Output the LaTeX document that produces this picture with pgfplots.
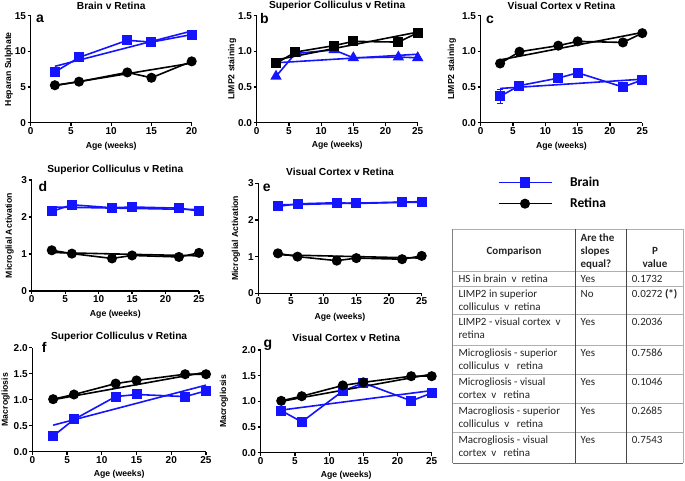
\documentclass[border=0pt]{standalone}
\usepackage{pgfplots}
\pgfplotsset{compat=1.18}
\usepackage{fontspec}
\setmainfont{Liberation Sans}
\newfontfamily\tabfont{Carlito}
\definecolor{gpblue}{RGB}{20,20,255}
\definecolor{tabtext}{RGB}{35,35,35}
\definecolor{rulegray}{RGB}{175,175,175}
\definecolor{darkrule}{RGB}{70,70,70}

\pgfplotsset{
  gp/.style={
    scale only axis, clip=false, anchor=south west,
    axis x line*=bottom, axis y line*=left,
    axis line style={line width=1.3pt, black},
    tick style={line width=1.2pt, black},
    tick align=outside, major tick length=3pt,
    xmin=0, ymin=0,
    /pgf/number format/assume math mode=true,
    tick label style={font=\bfseries\fontsize{10}{11}\selectfont},
    xticklabel={\textbf{\pgfmathprintnumber{\tick}}},
    yticklabel={\textbf{\pgfmathprintnumber{\tick}}},
    xticklabel style={inner sep=1.5pt},
    yticklabel style={inner sep=1.5pt},
    xlabel={Age (weeks)},
    label style={font=\bfseries\fontsize{8.7}{10}\selectfont},
    xlabel style={anchor=center},
    ylabel style={anchor=center},
    every axis title shift=0pt,
    title style={font=\bfseries\fontsize{10.2}{12}\selectfont, anchor=center},
  },
  onedec/.style={yticklabel style={/pgf/number format/.cd, fixed, fixed zerofill, precision=1}},
  bluesq/.style={gpblue, line width=1.6pt, mark=square*, mark size=4.2pt, mark options={solid, fill=gpblue}},
  bluetri/.style={gpblue, line width=1.6pt, mark=triangle*, mark size=5pt, mark options={solid, fill=gpblue}},
  blackci/.style={black, line width=1.6pt, mark=*, mark size=4.2pt, mark options={solid, fill=black}},
  blacksq/.style={black, line width=1.6pt, mark=square*, mark size=4.2pt, mark options={solid, fill=black}},
  bluereg/.style={gpblue, line width=1.6pt, no markers},
  blackreg/.style={black, line width=1.6pt, no markers},
  ebars/.style={error bars/.cd, y dir=both, y explicit, error bar style={line width=1pt}, error mark options={rotate=90, mark size=3pt, line width=1pt}},
}

\newcommand{\tabc}[3]{\node[anchor=base west, inner sep=0pt, font=\tabfont\fontsize{11}{13}\selectfont, text=tabtext] at (#1,#2) {#3};}
\newcommand{\tabhc}[3]{\node[anchor=base, inner sep=0pt, font=\tabfont\bfseries\fontsize{11}{13}\selectfont, text=tabtext] at (#1,#2) {#3};}
\newcommand{\tabhl}[3]{\node[anchor=base west, inner sep=0pt, font=\tabfont\bfseries\fontsize{11}{13}\selectfont, text=tabtext] at (#1,#2) {#3};}
\newcommand{\panlet}[3]{\node[anchor=base west, inner sep=0pt, font=\bfseries\fontsize{14}{14}\selectfont] at (#1,#2) {#3};}
\newcommand{\tabrule}[1]{\draw[rulegray, line width=0.7pt] (452.7,#1) -- (683.3,#1);}

\begin{document}
\begin{tikzpicture}
\useasboundingbox (0,0) rectangle (685pt,481pt);

% ---------- a ----------
\begin{axis}[gp, at={(30.7pt,358.3pt)}, width=161pt, height=107pt,
  xmax=20, ymax=15, xtick={0,5,10,15,20}, ytick={0,5,10,15},
  title={Brain v Retina}, title style={at={(axis description cs:0.5,1.088)}},
  ylabel={Heparan Sulphate}, ylabel style={at={(axis description cs:-0.135,0.5)}},
  xlabel style={at={(axis description cs:0.5,-0.218)}}]
\addplot[blackreg] coordinates {(3,5.2) (20,8.35)};
\addplot[blackci, ebars] coordinates {(3,5.25) (6,5.75) (12,7.05) (15,6.3) +- (0,0.5) (20,8.6)};
\addplot[bluereg] coordinates {(3,7.9) (20,12.85)};
\addplot[bluesq] coordinates {(3,7.1) (6,9.15) (12,11.55) (15,11.3) (20,12.35)};
\end{axis}

% ---------- b ----------
\begin{axis}[gp, onedec, at={(256.7pt,358.3pt)}, width=161pt, height=107pt,
  xmax=25, ymax=1.5, xtick={0,5,10,15,20,25}, ytick={0,0.5,1,1.5},
  title={Superior Colliculus v Retina}, title style={at={(axis description cs:0.5,1.088)}},
  ylabel={LIMP2 staining}, ylabel style={at={(axis description cs:-0.153,0.5)}},
  xlabel style={at={(axis description cs:0.5,-0.215)}}]
\addplot[bluereg] coordinates {(3,0.84) (25,0.96)};
\addplot[bluetri] coordinates {(3,0.65) (6,0.97) (12,1.02) (15,0.91) (22,0.92) (25,0.91)};
\addplot[blackreg] coordinates {(3,0.88) (25,1.27)};
\addplot[blacksq, ebars] coordinates {(3,0.83) (6,0.99) (12,1.08) +- (0,0.04) (15,1.14) (22,1.13) (25,1.26)};
\end{axis}

% ---------- c ----------
\begin{axis}[gp, onedec, at={(480.7pt,358.3pt)}, width=161.6pt, height=107pt,
  xmax=25, ymax=1.5, xtick={0,5,10,15,20,25}, ytick={0,0.5,1,1.5},
  title={Visual Cortex v Retina}, title style={at={(axis description cs:0.5,1.088)}},
  ylabel={LIMP2 staining}, ylabel style={at={(axis description cs:-0.178,0.5)}},
  xlabel style={at={(axis description cs:0.5,-0.218)}}]
\addplot[blackreg] coordinates {(3,0.88) (25,1.265)};
\addplot[blackci, ebars] coordinates {(3,0.83) +- (0,0.04) (6,0.995) +- (0,0.05) (12,1.08) +- (0,0.05) (15,1.14) (22,1.125) (25,1.255)};
\addplot[bluereg] coordinates {(3,0.48) (25,0.61)};
\addplot[bluesq, ebars] coordinates {(3,0.37) +- (0,0.1) (6,0.52) +- (0,0.04) (12,0.625) (15,0.70) (22,0.50) +- (0,0.06) (25,0.60)};
\end{axis}

% ---------- d ----------
\begin{axis}[gp, at={(31.7pt,190pt)}, width=167.3pt, height=111pt,
  xmax=25, ymax=3, xtick={0,5,10,15,20,25}, ytick={0,1,2,3},
  title={Superior Colliculus v Retina}, title style={at={(axis description cs:0.5,1.09)}},
  ylabel={Microglial Activation}, ylabel style={at={(axis description cs:-0.1315,0.5)}},
  xlabel style={at={(axis description cs:0.5,-0.207)}}]
\addplot[bluereg] coordinates {(3,2.27) (25,2.2)};
\addplot[bluesq] coordinates {(3,2.15) (6,2.33) (12,2.25) (15,2.27) (22,2.24) (25,2.16)};
\addplot[blackreg] coordinates {(3,1.04) (25,0.95)};
\addplot[blackci] coordinates {(3,1.10) (6,1.01) (12,0.88) (15,0.96) (22,0.92) (25,1.03)};
\end{axis}

% ---------- e ----------
\begin{axis}[gp, at={(258.3pt,187.7pt)}, width=163.4pt, height=110pt,
  xmax=25, ymax=3, xtick={0,5,10,15,20,25}, ytick={0,1,2,3},
  title={Visual Cortex v Retina}, title style={at={(axis description cs:0.5,1.105)}},
  ylabel={Microglial Activation}, ylabel style={at={(axis description cs:-0.1365,0.5)}},
  xlabel style={at={(axis description cs:0.5,-0.215)}}]
\addplot[bluereg] coordinates {(3,2.41) (25,2.50)};
\addplot[bluesq] coordinates {(3,2.37) (6,2.44) (12,2.47) (15,2.45) (22,2.48) (25,2.48)};
\addplot[blackreg] coordinates {(3,1.05) (25,0.96)};
\addplot[blackci] coordinates {(3,1.09) (6,1.00) (12,0.89) (15,0.96) (22,0.93) (25,1.02)};
\end{axis}

% ---------- f ----------
\begin{axis}[gp, onedec, at={(32.3pt,29.3pt)}, width=173.7pt, height=104pt,
  xmax=25, ymax=2, xtick={0,5,10,15,20,25}, ytick={0,0.5,1,1.5,2},
  title={Superior Colliculus v Retina}, title style={at={(axis description cs:0.5,1.106)}},
  ylabel={Macrogliosis}, ylabel style={at={(axis description cs:-0.154,0.5)}},
  xlabel style={at={(axis description cs:0.5,-0.214)}}]
\addplot[bluereg] coordinates {(3,0.51) (25,1.28)};
\addplot[bluesq] coordinates {(3,0.30) (6,0.62) (12,1.06) (15,1.10) (22,1.06) (25,1.17)};
\addplot[blackreg] coordinates {(3,1.0) (25,1.53)};
\addplot[blackci] coordinates {(3,1.01) (6,1.10) (12,1.31) (15,1.37) (22,1.49) (25,1.49)};
\end{axis}

% ---------- g ----------
\begin{axis}[gp, onedec, at={(260.7pt,28.3pt)}, width=171pt, height=102.7pt,
  xmax=25, ymax=2, xtick={0,5,10,15,20,25}, ytick={0,0.5,1,1.5,2},
  title={Visual Cortex v Retina}, title style={at={(axis description cs:0.5,1.114)}},
  ylabel={Macrogliosis}, ylabel style={at={(axis description cs:-0.215,0.5)}},
  xlabel style={at={(axis description cs:0.5,-0.222)}}]
\addplot[bluereg] coordinates {(3,0.83) (25,1.21)};
\addplot[bluesq] coordinates {(3,0.82) (6,0.60) (12,1.20) (15,1.36) (22,1.01) (25,1.16)};
\addplot[blackreg] coordinates {(3,1.0) (25,1.53)};
\addplot[blackci] coordinates {(3,1.01) (6,1.10) (12,1.31) (15,1.37) (22,1.49) (25,1.49)};
\end{axis}

% ---------- overlay: letters, legend, table ----------
\begin{axis}[at={(0pt,0pt)}, anchor=south west, scale only axis, width=685pt, height=481pt,
  xmin=0, xmax=685, ymin=0, ymax=481, y dir=reverse, hide axis, clip=false,
  legend style={at={(axis cs:497.7,177)}, anchor=north west, draw=none, fill=none, inner sep=0pt,
    row sep=10pt, column sep=18pt, font=\tabfont\bfseries\fontsize{13.5}{14}\selectfont,
    cells={anchor=west}, nodes={inner sep=0pt}},
  legend image code/.code={\draw[mark repeat=2,mark phase=2,#1] plot coordinates {(0pt,0pt) (26.5pt,0pt) (53pt,0pt)};}]
\addlegendimage{gpblue, line width=1.2pt, mark=square*, mark size=4.8pt, mark options={solid, fill=gpblue}}
\addlegendentry{Brain}
\addlegendimage{black, line width=1.2pt, mark=*, mark size=4.4pt, mark options={solid, fill=black}}
\addlegendentry{Retina}

\panlet{36}{22.7}{a}
\panlet{260}{23.3}{b}
\panlet{486}{23.3}{c}
\panlet{38.3}{191.7}{d}
\panlet{262.7}{191.7}{e}
\panlet{41.7}{352.5}{f}
\panlet{263.3}{347.5}{g}

% table rules
\tabrule{229.5}
\tabrule{271}
\tabrule{286}
\tabrule{314}
\tabrule{345}
\tabrule{374}
\tabrule{403}
\tabrule{432}
\draw[darkrule!80, line width=1pt] (452.7,463.3) -- (683.3,463.3);
\draw[darkrule, line width=0.8pt] (575.7,229.5) -- (575.7,463.3);
\draw[darkrule, line width=0.8pt] (626.7,229.5) -- (626.7,463.3);
\draw[gray, line width=1.4pt] (452.7,229.5) -- (452.7,463.3);
\draw[rulegray, line width=0.8pt] (683.3,229.5) -- (683.3,463.3);

% header
\tabhc{514}{254.5}{Comparison}
\tabhl{580.5}{241.5}{Are the}
\tabhl{580.5}{254.5}{slopes}
\tabhl{580.5}{267.5}{equal?}
\tabhc{655}{254.5}{P}
\tabhc{655}{267.5}{value}

% rows
\tabc{458.3}{282.5}{HS in brain\ \ v\ \ retina}
\tabc{580.5}{282.5}{Yes}
\tabc{631.7}{282.5}{0.1732}

\tabc{458.3}{297.8}{LIMP2 in superior}
\tabc{458.3}{310.6}{colliculus\ \ v\ \ retina}
\tabc{580.5}{297.8}{No}
\tabc{631.7}{297.8}{0.0272 \textbf{(*)}}

\tabc{458.3}{325.8}{LIMP2 - visual cortex\ \ v}
\tabc{458.3}{338.6}{retina}
\tabc{580.5}{325.8}{Yes}
\tabc{631.7}{325.8}{0.2036}

\tabc{458.3}{356.8}{Microgliosis - superior}
\tabc{458.3}{369.6}{colliculus\ \ v\ \ \ retina}
\tabc{580.5}{356.8}{Yes}
\tabc{631.7}{356.8}{0.7586}

\tabc{458.3}{385.8}{Microgliosis - visual}
\tabc{458.3}{398.6}{cortex\ \ v\ \ \ retina}
\tabc{580.5}{385.8}{Yes}
\tabc{631.7}{385.8}{0.1046}

\tabc{458.3}{414.8}{Macrogliosis - superior}
\tabc{458.3}{427.6}{colliculus\ \ v\ \ \ retina}
\tabc{580.5}{414.8}{Yes}
\tabc{631.7}{414.8}{0.2685}

\tabc{458.3}{443.8}{Macrogliosis - visual}
\tabc{458.3}{456.6}{cortex\ \ v\ \ \ retina}
\tabc{580.5}{443.8}{Yes}
\tabc{631.7}{443.8}{0.7543}
\end{axis}
\end{tikzpicture}
\end{document}
